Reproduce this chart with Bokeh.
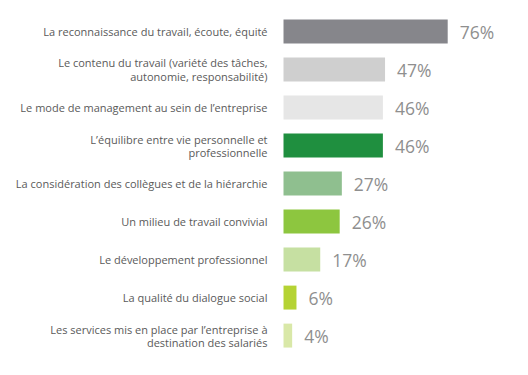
from bokeh.plotting import figure
from bokeh.models import ColumnDataSource, Range1d
from bokeh.core.properties import value
from bokeh.embed import file_html
from bokeh.resources import INLINE

categories = [
    "La reconnaissance du travail, écoute, équité",
    "Le contenu du travail (variété des tâches,\nautonomie, responsabilité)",
    "Le mode de management au sein de l\u2019entreprise",
    "L\u2019équilibre entre vie personnelle et\nprofessionnelle",
    "La considération des collègues et de la hiérarchie",
    "Un milieu de travail convivial",
    "Le développement professionnel",
    "La qualité du dialogue social",
    "Les services mis en place par l\u2019entreprise à\ndestination des salariés",
]
values = [76, 47, 46, 46, 27, 26, 17, 6, 4]
value_labels = ["76%", "47%", "46%", "46%", "27%", "26%", "17%", "6%", "4%"]
colors = ["#86868b", "#cfcfcf", "#e6e6e6", "#1f8f3f", "#8fbf8f",
          "#8dc63f", "#c6e0a2", "#b5d334", "#d9e8a8"]

idx = list(range(len(categories)))
src = ColumnDataSource(dict(y=idx, v=values, cat=categories, lab=value_labels,
                            color=colors, zero=[0] * len(idx)))

W, H = 528, 375
p = figure(width=W, height=H, output_backend="svg", toolbar_location=None,
           x_range=Range1d(-131, 113.4), y_range=Range1d(9.05, -0.816),
           min_border=0, min_border_left=0, min_border_right=0,
           min_border_top=0, min_border_bottom=0)
p.axis.visible = False
p.grid.visible = False
p.outline_line_color = None
p.background_fill_color = "white"
p.border_fill_color = "white"

p.hbar(y="y", left="zero", right="v", height=0.63, fill_color="color",
       line_color=None, source=src)

p.text(x="zero", y="y", text="cat", source=src, x_offset=-16,
       text_align="right", text_baseline="middle",
       text_font=value("Open Sans"), text_font_size="11px",
       text_color="#5a5a5a", text_line_height=0.87)

p.text(x="v", y="y", text="lab", source=src, x_offset=12,
       text_align="left", text_baseline="middle",
       text_font=value("Open Sans"), text_font_size="17.5px",
       text_color="#8f8f8f")

open("out.html", "w").write(file_html(p, INLINE))
